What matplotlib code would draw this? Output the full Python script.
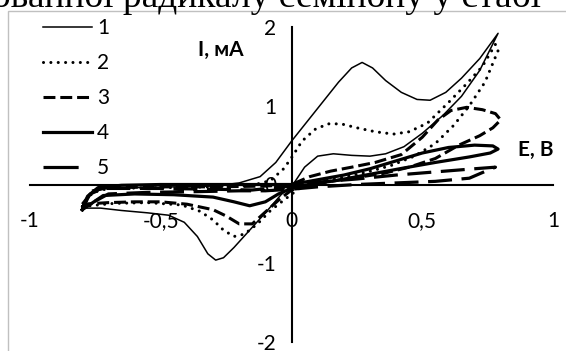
import matplotlib
matplotlib.use("Agg")
import matplotlib.pyplot as plt
from matplotlib.lines import Line2D
from matplotlib.patches import Rectangle

plt.rcParams['font.family'] = ['Lato', 'DejaVu Sans']

# curve 1 (thin solid)
e1 = [-0.80, -0.77, -0.72, -0.60, -0.45, -0.30, -0.20, -0.12, -0.06, 0.00, 0.06, 0.12, 0.18, 0.23, 0.27,
      0.31, 0.36, 0.42, 0.48, 0.53, 0.59, 0.65, 0.72, 0.79,
      0.72, 0.65, 0.58, 0.50, 0.43, 0.36, 0.30, 0.23, 0.16, 0.10, 0.05, 0.01, -0.04, -0.10, -0.16,
      -0.22, -0.26, -0.29, -0.32, -0.36, -0.41, -0.47, -0.55, -0.65, -0.73, -0.80]
i1 = [-0.30, -0.12, -0.05, -0.04, -0.03, -0.02, 0.02, 0.10, 0.28, 0.55, 0.80, 1.05, 1.30, 1.48, 1.55,
      1.48, 1.32, 1.17, 1.08, 1.07, 1.17, 1.35, 1.60, 1.92,
      1.45, 1.12, 0.88, 0.65, 0.48, 0.39, 0.36, 0.37, 0.39, 0.36, 0.22, 0.02, -0.13, -0.36, -0.58,
      -0.80, -0.93, -0.96, -0.88, -0.66, -0.48, -0.39, -0.36, -0.33, -0.30, -0.30]

# curve 2 (dotted)
e2 = [-0.80, -0.76, -0.70, -0.50, -0.30, -0.15, -0.08, -0.03, 0.00, 0.04, 0.09, 0.14, 0.19, 0.25, 0.32,
      0.39, 0.45, 0.52, 0.60, 0.67, 0.73, 0.78,
      0.79, 0.74, 0.68, 0.62, 0.55, 0.47, 0.38, 0.28, 0.18, 0.10, 0.03, -0.03, -0.08, -0.13, -0.18,
      -0.22, -0.26, -0.30, -0.35, -0.42, -0.55, -0.68, -0.80]
i2 = [-0.28, -0.10, -0.05, -0.04, -0.03, -0.01, 0.05, 0.20, 0.34, 0.55, 0.70, 0.77, 0.77, 0.72, 0.67,
      0.64, 0.67, 0.78, 1.04, 1.28, 1.50, 1.78,
      1.70, 1.30, 1.00, 0.75, 0.52, 0.36, 0.24, 0.15, 0.08, 0.03, -0.05, -0.20, -0.33, -0.50, -0.63,
      -0.66, -0.58, -0.45, -0.34, -0.26, -0.23, -0.24, -0.28]

# curve 3 (dashed)
e3 = [-0.80, -0.76, -0.70, -0.50, -0.30, -0.10, 0.00, 0.07, 0.15, 0.23, 0.32, 0.42, 0.50, 0.56, 0.61,
      0.67, 0.73, 0.78, 0.80,
      0.77, 0.72, 0.64, 0.55, 0.45, 0.35, 0.25, 0.15, 0.05, 0.00, -0.05, -0.10, -0.15, -0.20, -0.25,
      -0.30, -0.40, -0.50, -0.60, -0.70, -0.80]
i3 = [-0.25, -0.08, -0.04, -0.03, -0.03, -0.02, 0.00, 0.10, 0.17, 0.22, 0.28, 0.38, 0.60, 0.82, 0.94,
      0.98, 0.95, 0.90, 0.82,
      0.72, 0.62, 0.50, 0.33, 0.22, 0.14, 0.09, 0.04, -0.02, -0.07, -0.20, -0.35, -0.50, -0.50, -0.40,
      -0.32, -0.25, -0.22, -0.22, -0.23, -0.25]

# curve 4 (thick solid)
e4 = [-0.80, -0.78, -0.74, -0.65, -0.50, -0.30, -0.10, 0.00, 0.10, 0.20, 0.30, 0.40, 0.50, 0.60, 0.70,
      0.77, 0.79,
      0.76, 0.68, 0.55, 0.43, 0.30, 0.17, 0.07, 0.00, -0.05, -0.10, -0.16, -0.22, -0.30, -0.45, -0.60,
      -0.72, -0.80]
i4 = [-0.32, -0.15, -0.04, -0.01, 0.00, 0.00, 0.00, 0.00, 0.06, 0.12, 0.20, 0.30, 0.40, 0.47, 0.50,
      0.49, 0.45,
      0.40, 0.35, 0.28, 0.21, 0.13, 0.05, 0.00, -0.05, -0.12, -0.22, -0.27, -0.22, -0.16, -0.13, -0.12,
      -0.14, -0.32]

# curve 5 (long dash)
e5 = [-0.80, -0.77, -0.72, -0.50, -0.30, -0.15, 0.00, 0.10, 0.25, 0.40, 0.55, 0.70, 0.78,
      0.75, 0.68, 0.55, 0.40, 0.25, 0.10, 0.00, -0.10, -0.20, -0.35, -0.55, -0.70, -0.80]
i5 = [-0.30, -0.12, -0.05, -0.05, -0.06, -0.07, -0.02, 0.03, 0.07, 0.12, 0.16, 0.20, 0.22,
      0.18, 0.08, 0.04, 0.02, 0.00, -0.03, -0.06, -0.08, -0.08, -0.09, -0.10, -0.12, -0.30]

x_ticks = [-1, -0.5, 0, 0.5, 1]
x_labels = ['-1', '-0,5', '0', '0,5', '1']
y_ticks = [-2, -1, 0, 1, 2]
y_labels = ['-2', '-1', '0', '1', '2']
names = ['1', '2', '3', '4', '5']

fig = plt.figure(figsize=(5.66, 3.51), dpi=100)
ax = fig.add_axes([30 / 566, 1 - 342 / 351, 523 / 566, 315 / 351])
ax.set_facecolor('none')

l1, = ax.plot(e1, i1, color='black', lw=1.1)
l2, = ax.plot(e2, i2, color='black', lw=2.2, linestyle=(0, (0.01, 2.4)), dash_capstyle='round')
l3, = ax.plot(e3, i3, color='black', lw=2.2, linestyle=(0, (3.9, 1.6)))
l4, = ax.plot(e4, i4, color='black', lw=2.3)
l5, = ax.plot(e5, i5, color='black', lw=2.3, linestyle=(0, (7.5, 3.0)))

ax.set_xlim(-1, 1)
ax.set_ylim(-2, 2)
for s in ['top', 'right']:
    ax.spines[s].set_visible(False)
ax.spines['left'].set_position('zero')
ax.spines['bottom'].set_position('zero')
ax.spines['left'].set_linewidth(1.5)
ax.spines['bottom'].set_linewidth(1.5)
ax.set_xticks(x_ticks, x_labels)
ax.set_yticks(y_ticks, y_labels)
ax.tick_params(axis='x', length=0, pad=19, labelsize=15)
ax.tick_params(axis='y', length=0, pad=11, labelsize=15)

ax.text(-0.27, 1.71, 'I, мА', fontsize=15, fontweight='bold', ha='center', va='center')
ax.text(0.935, 0.44, 'E, B', fontsize=15, fontweight='bold', ha='center', va='center')

h5 = Line2D([], [], color='black', lw=2.3, linestyle=(0, (11, 10)))
ax.legend([l1, l2, l3, l4, h5], names, loc='upper left', frameon=False,
          bbox_to_anchor=(43 / 566, 1 - 18 / 351), bbox_transform=fig.transFigure,
          borderpad=0, borderaxespad=0, handlelength=2.35, handletextpad=0.25,
          labelspacing=0.72, fontsize=15)

fig.patches.append(Rectangle((8 / 566, -0.1), 1.2, 1.1 - 11 / 351, transform=fig.transFigure,
                             fill=False, edgecolor='#c0c0c0', lw=1.0))
fig.text(-8 / 566, 1 - 7 / 351, 'ованної радикалу семінону у стабі', fontsize=27,
         family='Liberation Serif', va='baseline', ha='left')

fig.savefig('out.png', dpi=100)
